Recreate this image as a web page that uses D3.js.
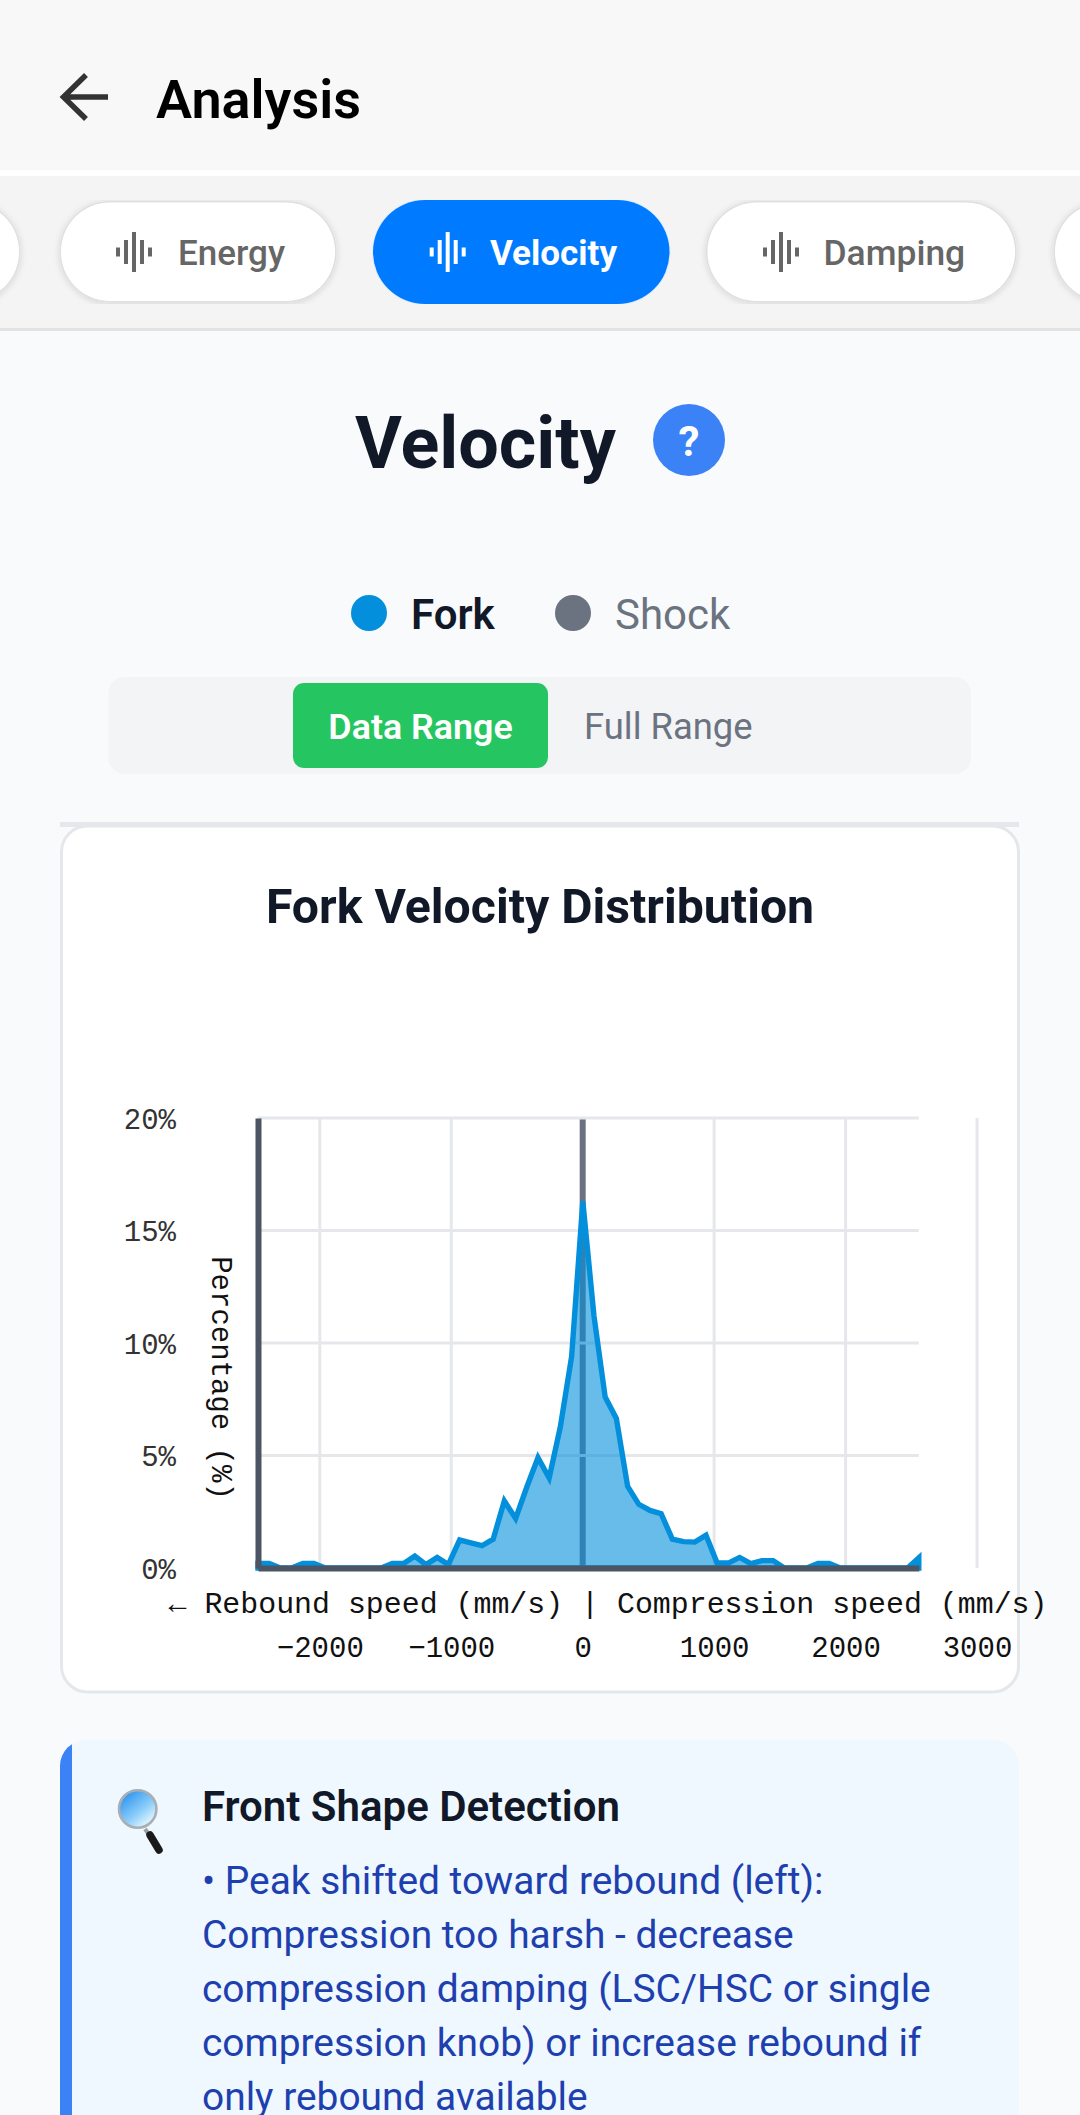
<!DOCTYPE html>
<html>
<head>
<meta charset="utf-8">
<script src="https://cdn.jsdelivr.net/npm/d3@7"></script>
<style>
  html, body { margin: 0; padding: 0; background: #f9fafb; overflow: hidden; }
  svg { display: block; }
  text { font-family: Roboto, sans-serif; }
  .mono text, text.mono { font-family: "Liberation Mono", monospace; }
</style>
</head>
<body>
<svg id="page" width="1080" height="2115"></svg>
<script>
// values
const speeds = [-2470, -2385, -2300, -2214, -2129, -2044, -1959, -1874, -1788, -1703,
  -1618, -1533, -1448, -1362, -1277, -1192, -1107, -1022, -936, -851,
  -766, -681, -596, -510, -425, -340, -255, -170, -84, 1,
  86, 171, 256, 342, 427, 512, 597, 682, 768, 853,
  938, 1023, 1108, 1194, 1279, 1364, 1449, 1534, 1620, 1705,
  1790, 1875, 1960, 2046, 2131, 2216, 2301, 2386, 2472, 2557];
const forkPct = [0.2, 0.2, 0, 0, 0.2, 0.2, 0, 0, 0, 0,
  0, 0, 0.2, 0.2, 0.53, 0.15, 0.47, 0.15, 1.25, 1.12,
  0.99, 1.28, 2.98, 2.2, 3.6, 4.9, 4.0, 6.27, 9.4, 16.3,
  11.2, 7.6, 6.65, 3.63, 2.83, 2.56, 2.41, 1.28, 1.17, 1.15,
  1.46, 0.22, 0.22, 0.47, 0.2, 0.33, 0.33, 0, 0, 0,
  0.2, 0.2, 0, 0, 0, 0, 0, 0, 0, 0.45];
const xTicks = [-2000, -1000, 0, 1000, 2000, 3000];
const yTicks = [0, 5, 10, 15, 20];
const insightLines = [
  "• Peak shifted toward rebound (left):",
  "Compression too harsh - decrease",
  "compression damping (LSC/HSC or single",
  "compression knob) or increase rebound if",
  "only rebound available"
];

const forkColor = "#038fdb";
const svg = d3.select("#page");
const defs = svg.append("defs");

function label(sel, str, x, y, size, weight, fill, anchor) {
  return sel.append("text").attr("x", x).attr("y", y)
    .attr("font-size", size).attr("font-weight", weight)
    .attr("fill", fill).attr("text-anchor", anchor || "start").text(str);
}

// header
svg.append("rect").attr("width", 1080).attr("height", 170).attr("fill", "#f8f8f8");
svg.append("rect").attr("y", 170).attr("width", 1080).attr("height", 6).attr("fill", "#ffffff");
svg.append("path").attr("d", "M86 75 L63.5 97 L86 119 M63.5 97 H108")
  .attr("fill", "none").attr("stroke", "#333").attr("stroke-width", 5.5);
label(svg, "Analysis", 156, 118, 54, 600, "#000");

// tab strip
svg.append("rect").attr("y", 176).attr("width", 1080).attr("height", 152).attr("fill", "#f4f4f4");
svg.append("rect").attr("y", 328).attr("width", 1080).attr("height", 3).attr("fill", "#e2e2e2");
defs.append("clipPath").attr("id", "tabClip").append("rect")
  .attr("y", 200).attr("width", 1080).attr("height", 104);
const tabShadow = defs.append("filter").attr("id", "tabShadow")
  .attr("x", "-10%").attr("y", "-20%").attr("width", "120%").attr("height", "140%");
tabShadow.append("feDropShadow").attr("dx", 0).attr("dy", 1).attr("stdDeviation", 3)
  .attr("flood-color", "#000").attr("flood-opacity", 0.14);
const tabs = svg.append("g").attr("clip-path", "url(#tabClip)");

function pill(x0, x1, active) {
  tabs.append("rect").attr("x", x0).attr("y", active ? 200 : 202.5)
    .attr("width", x1 - x0).attr("height", active ? 104 : 98.5)
    .attr("rx", active ? 52 : 49)
    .attr("fill", active ? "#007aff" : "#fff")
    .attr("stroke", active ? "#e4eefa" : "#e0e0e0")
    .attr("stroke-width", active ? 2 : 3)
    .attr("paint-order", "stroke")
    .attr("filter", active ? null : "url(#tabShadow)");
}
function tabIcon(cx, color) {
  const offsets = [-16, -8, 0, 8, 16];
  const heights = [9, 24, 40, 24, 9];
  offsets.forEach((o, i) => {
    tabs.append("rect").attr("x", cx + o - 2).attr("y", 252 - heights[i] / 2)
      .attr("width", 4).attr("height", heights[i]).attr("fill", color);
  });
}
pill(-260, 19, false);
pill(61, 335, false);
pill(373, 669.5, true);
pill(707.5, 1015, false);
pill(1055, 1300, false);
tabIcon(134, "#666");
tabIcon(447.7, "#fff");
tabIcon(781, "#666");
label(tabs, "Energy", 178, 265, 35, 500, "#666");
label(tabs, "Velocity", 490, 265, 35, 700, "#fff");
label(tabs, "Damping", 823.5, 265, 35.4, 500, "#666");

// section heading
label(svg, "Velocity", 355, 468, 71.9, 700, "#111827");
svg.append("circle").attr("cx", 689).attr("cy", 440).attr("r", 36).attr("fill", "#3b82f6");
label(svg, "?", 689, 456, 42, 700, "#fff", "middle");

// series switch
svg.append("circle").attr("cx", 369).attr("cy", 613).attr("r", 18).attr("fill", forkColor);
label(svg, "Fork", 411, 629, 42, 600, "#111827");
svg.append("circle").attr("cx", 573).attr("cy", 613).attr("r", 18).attr("fill", "#6b7280");
label(svg, "Shock", 615, 629, 42, 400, "#6b7280");

// range toggle
svg.append("rect").attr("x", 108.5).attr("y", 677).attr("width", 862.5).attr("height", 97)
  .attr("rx", 16).attr("fill", "#f3f4f6");
svg.append("rect").attr("x", 293).attr("y", 683).attr("width", 255).attr("height", 85)
  .attr("rx", 11).attr("fill", "#25c661");
label(svg, "Data Range", 420.5, 739, 35.8, 600, "#fff", "middle");
label(svg, "Full Range", 584, 739, 36.4, 400, "#6b7280");

// chart card
svg.append("rect").attr("x", 60).attr("y", 822).attr("width", 959).attr("height", 5).attr("fill", "#e5e7eb");
svg.append("rect").attr("x", 61.5).attr("y", 826).attr("width", 957).attr("height", 866)
  .attr("rx", 26).attr("fill", "#fff").attr("stroke", "#e5e7eb").attr("stroke-width", 3);
label(svg, "Fork Velocity Distribution", 540, 923, 48.2, 700, "#111827", "middle");

const x = d3.scaleLinear().domain([speeds[0], speeds[speeds.length - 1]]).range([258, 918.8]);
const y = d3.scaleLinear().domain([0, 20]).range([1568, 1118]);

// grid
const grid = svg.append("g");
grid.selectAll("line.v").data(xTicks).join("line").attr("class", "v")
  .attr("x1", d => x(d)).attr("x2", d => x(d))
  .attr("y1", y(20)).attr("y2", y(0))
  .attr("stroke", d => d === 0 ? "#6b7280" : "#e5e7eb")
  .attr("stroke-width", d => d === 0 ? 6 : 3);
grid.selectAll("line.h").data(yTicks).join("line").attr("class", "h")
  .attr("x1", x.range()[0]).attr("x2", x.range()[1])
  .attr("y1", d => y(d)).attr("y2", d => y(d))
  .attr("stroke", "#e5e7eb").attr("stroke-width", 3);

// distribution
const area = d3.area().x((d, i) => x(speeds[i])).y0(y(0)).y1(d => y(d));
svg.append("path").datum(forkPct)
  .attr("d", d => area(d))
  .attr("fill", forkColor).attr("fill-opacity", 0.6)
  .attr("stroke", forkColor).attr("stroke-width", 5.4);

// axes
const yAxis = svg.append("g").attr("class", "mono").attr("transform", "translate(258,0)")
  .call(d3.axisLeft(y).tickValues(yTicks).tickFormat(d => d + "%").tickSize(0).tickSizeOuter(0).tickPadding(0));
yAxis.select(".domain").attr("stroke", "#4b5563").attr("stroke-width", 6);
yAxis.selectAll("text").attr("x", -82).attr("dy", 10).attr("font-size", 29).attr("fill", "#333").attr("font-family", null);

const xAxis = svg.append("g").attr("class", "mono").attr("transform", "translate(0,1568)")
  .call(d3.axisBottom(x).tickValues(xTicks).tickFormat(d3.format("d")).tickSize(0).tickSizeOuter(0).tickPadding(0));
xAxis.select(".domain").attr("stroke", "#4b5563").attr("stroke-width", 6);
xAxis.selectAll("text").attr("y", 89).attr("dy", 0).attr("font-size", 29).attr("fill", "#111").attr("font-family", null);

label(svg, "← Rebound speed (mm/s) | Compression speed (mm/s)", 608, 1613, 29.9, 400, "#111", "middle").attr("class", "mono");
label(svg, "Percentage (%)", 0, 0, 29, 400, "#111", "middle").attr("class", "mono")
  .attr("transform", "translate(212,1378) rotate(90)");

// insight card
defs.append("clipPath").attr("id", "insightClip").append("rect")
  .attr("x", 60).attr("y", 1740).attr("width", 959).attr("height", 500).attr("rx", 26);
const insight = svg.append("g").attr("clip-path", "url(#insightClip)");
insight.append("rect").attr("x", 60).attr("y", 1740).attr("width", 959).attr("height", 500).attr("fill", "#f0f8ff");
insight.append("rect").attr("x", 60).attr("y", 1740).attr("width", 12).attr("height", 500).attr("fill", "#3b82f6");

// magnifier icon
const lens = defs.append("linearGradient").attr("id", "lens")
  .attr("x1", "15%").attr("y1", "10%").attr("x2", "80%").attr("y2", "90%");
lens.append("stop").attr("offset", "0%").attr("stop-color", "#2f95ee");
lens.append("stop").attr("offset", "60%").attr("stop-color", "#8ccdfa");
lens.append("stop").attr("offset", "100%").attr("stop-color", "#e2f7ff");
svg.append("line").attr("x1", 145).attr("y1", 1829).attr("x2", 150).attr("y2", 1836)
  .attr("stroke", "#9aa0a5").attr("stroke-width", 4);
svg.append("line").attr("x1", 150).attr("y1", 1835).attr("x2", 159).attr("y2", 1850)
  .attr("stroke", "#1a1a1a").attr("stroke-width", 7.5).attr("stroke-linecap", "round");
svg.append("circle").attr("cx", 137.7).attr("cy", 1809).attr("r", 18.7)
  .attr("fill", "url(#lens)").attr("stroke", "#a9b0b5").attr("stroke-width", 2.6);

label(svg, "Front Shape Detection", 202, 1821, 42, 600, "#111827");
svg.selectAll("text.body").data(insightLines).join("text").attr("class", "body")
  .attr("x", 202).attr("y", (d, i) => 1894 + i * 54)
  .attr("font-size", 38.9).attr("fill", "#1e40af").text(d => d);
</script>
</body>
</html>
